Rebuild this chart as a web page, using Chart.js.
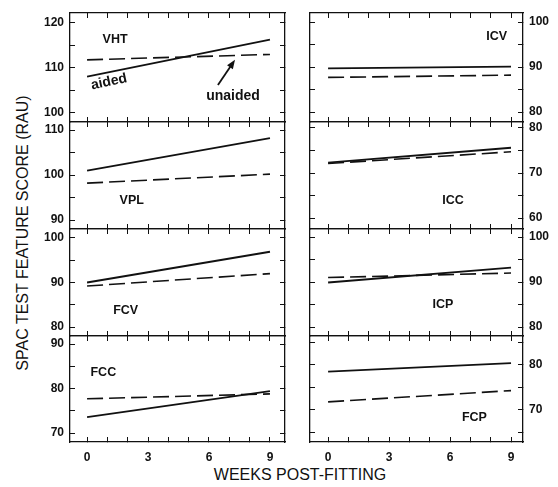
<!DOCTYPE html>
<html>
<head>
<meta charset="utf-8">
<script src="https://cdn.jsdelivr.net/npm/chart.js@4.4.1/dist/chart.umd.min.js"></script>
<style>
  body { margin: 0; background: #fff; }
  #wrap { position: relative; width: 558px; height: 487px; overflow: hidden; font-family: 'Liberation Sans', Arial, sans-serif; color: #111; }
  #wrap canvas { position: absolute; }
  .title { position: absolute; font-size: 16px; white-space: nowrap; }
  #ytitle { left: 23px; top: 233px; transform: translate(-50%, -50%) rotate(-90deg); }
  #xtitle { left: 300px; top: 475px; transform: translate(-50%, -50%); }
</style>
</head>
<body>
<div id="wrap">
  <div class="title" id="ytitle">SPAC TEST FEATURE SCORE (RAU)</div>
  <div class="title" id="xtitle">WEEKS POST-FITTING</div>
</div>
<script>
// data: straight-line fits, week 0 and week 9
const weeks = [0, 9]
const panels = ['VHT', 'VPL', 'FCV', 'FCC', 'ICV', 'ICC', 'ICP', 'FCP']
const aided = [
  [108.1, 116.3], [101.0, 108.2], [90.0, 96.9], [73.6, 79.4],
  [89.7, 90.1], [72.3, 75.6], [89.9, 93.2], [78.5, 80.4],
]
const unaided = [
  [111.8, 113.0], [98.2, 100.2], [89.2, 92.0], [77.7, 78.8],
  [87.7, 88.2], [72.1, 74.7], [91.0, 92.0], [71.8, 74.3],
]
const yMin = [98, 88, 78, 68, 77.8, 57.6, 78, 62.9]
const yMax = [122.2, 111.8, 102, 91.8, 102, 81.3, 101.8, 86.4]

// layout
const colLeft = [0, 303]
const colWidth = [292, 255]
const xRange = [[-0.84, 9.74], [-0.89, 9.59]]
const rowTop = [13, 122, 229, 336]
const rowBottom = [122, 229, 336, 442]
const pad = 4
// panel names placed in data coordinates
const namePos = [
  [1.38, 116.4], [2.2, 94.4], [1.9, 83.8], [0.8, 83.7],
  [8.3, 96.7], [6.15, 64], [5.65, 84.9], [7.2, 68.4],
]

const ink = '#111'
const tickFont = { family: "'Liberation Sans', Arial, sans-serif", size: 12, weight: 'bold' }

const labelsPlugin = {
  id: 'labels',
  afterDatasetsDraw(chart) {
    const i = chart.options.panelIndex
    const { ctx, scales } = chart
    const px = v => scales.x.getPixelForValue(v)
    const py = v => scales.y.getPixelForValue(v)
    ctx.save()
    ctx.fillStyle = ink
    ctx.strokeStyle = ink
    ctx.textAlign = 'center'
    ctx.textBaseline = 'middle'
    ctx.font = "bold 12.5px 'Liberation Sans', Arial, sans-serif"
    ctx.fillText(panels[i], px(namePos[i][0]), py(namePos[i][1]))
    if (i === 0) {
      ctx.font = "bold 14px 'Liberation Sans', Arial, sans-serif"
      ctx.save()
      ctx.translate(px(1.08), py(106.9))
      ctx.rotate(-12 * Math.PI / 180)
      ctx.fillText('aided', 0, 0)
      ctx.restore()
      ctx.fillText('unaided', px(7.18), py(103.8))
      // arrow pointing at the unaided line
      const x1 = px(6.44), y1 = py(106.2), x2 = px(7.28), y2 = py(111.8)
      const a = Math.atan2(y2 - y1, x2 - x1)
      ctx.lineWidth = 1.8
      ctx.beginPath()
      ctx.moveTo(x1, y1)
      ctx.lineTo(x2 - 6 * Math.cos(a), y2 - 6 * Math.sin(a))
      ctx.stroke()
      ctx.beginPath()
      ctx.moveTo(x2, y2)
      ctx.lineTo(x2 - 9 * Math.cos(a) + 3.5 * Math.sin(a), y2 - 9 * Math.sin(a) - 3.5 * Math.cos(a))
      ctx.lineTo(x2 - 9 * Math.cos(a) - 3.5 * Math.sin(a), y2 - 9 * Math.sin(a) + 3.5 * Math.cos(a))
      ctx.closePath()
      ctx.fill()
    }
    ctx.restore()
  },
}

function edgeGrid() {
  return { drawOnChartArea: false, drawTicks: true, tickLength: -5, tickWidth: 1, color: ink }
}

// fixed axis size, and no extra label padding pushed into the layout
function fixSize(w, h) {
  return s => {
    if (w !== null) s.width = w
    if (h !== null) s.height = h
    s.paddingTop = 0
    s.paddingBottom = 0
    s.paddingLeft = 0
    s.paddingRight = 0
  }
}

function makePanel(i) {
  const col = i < 4 ? 0 : 1
  const row = i % 4
  const bottomRow = row === 3

  const canvas = document.createElement('canvas')
  const h = rowBottom[row] - rowTop[row] + 2 * pad + (bottomRow ? 26 : 0)
  canvas.width = colWidth[col]
  canvas.height = h
  canvas.style.left = colLeft[col] + 'px'
  canvas.style.top = (rowTop[row] - pad) + 'px'
  document.getElementById('wrap').appendChild(canvas)

  const xOpts = {
    type: 'linear',
    min: xRange[col][0],
    max: xRange[col][1],
    grid: edgeGrid(),
    border: { color: ink, width: 1.3 },
  }
  const yOpts = {
    type: 'linear',
    min: yMin[i],
    max: yMax[i],
    grid: edgeGrid(),
    border: { color: ink, width: 1.3 },
  }

  new Chart(canvas.getContext('2d'), {
    type: 'line',
    data: {
      datasets: [
        {
          label: 'aided',
          data: weeks.map((w, k) => ({ x: w, y: aided[i][k] })),
          borderColor: ink,
          borderWidth: 1.8,
          pointRadius: 0,
        },
        {
          label: 'unaided',
          data: weeks.map((w, k) => ({ x: w, y: unaided[i][k] })),
          borderColor: ink,
          borderWidth: 1.6,
          borderDash: [16, 6],
          pointRadius: 0,
        },
      ],
    },
    options: {
      panelIndex: i,
      responsive: false,
      animation: false,
      layout: { padding: 0, autoPadding: false },
      plugins: { legend: { display: false }, tooltip: { enabled: false } },
      scales: {
        x: {
          ...xOpts,
          position: 'bottom',
          ticks: {
            display: bottomRow,
            stepSize: 1,
            includeBounds: false,
            padding: 13,
            color: ink,
            font: tickFont,
            maxRotation: 0,
            autoSkip: false,
            callback: v => (v % 3 === 0 ? v : ''),
          },
          afterFit: fixSize(null, bottomRow ? 30 : pad),
        },
        x2: {
          ...xOpts,
          axis: 'x',
          position: 'top',
          ticks: { display: false, stepSize: 1, includeBounds: false },
          afterFit: fixSize(null, pad),
        },
        y: {
          ...yOpts,
          position: col === 0 ? 'left' : 'right',
          ticks: {
            stepSize: 5,
            includeBounds: false,
            padding: 11,
            color: ink,
            font: tickFont,
            autoSkip: false,
            callback: v => (v % 10 === 0 ? v : ''),
          },
          afterFit: fixSize(col === 0 ? 70 : 35, null),
        },
        y2: {
          ...yOpts,
          axis: 'y',
          position: col === 0 ? 'right' : 'left',
          ticks: { display: false, stepSize: 5, includeBounds: false },
          afterFit: fixSize(7, null),
        },
      },
    },
    plugins: [labelsPlugin],
  })
}

panels.forEach((_, i) => makePanel(i))
</script>
</body>
</html>
